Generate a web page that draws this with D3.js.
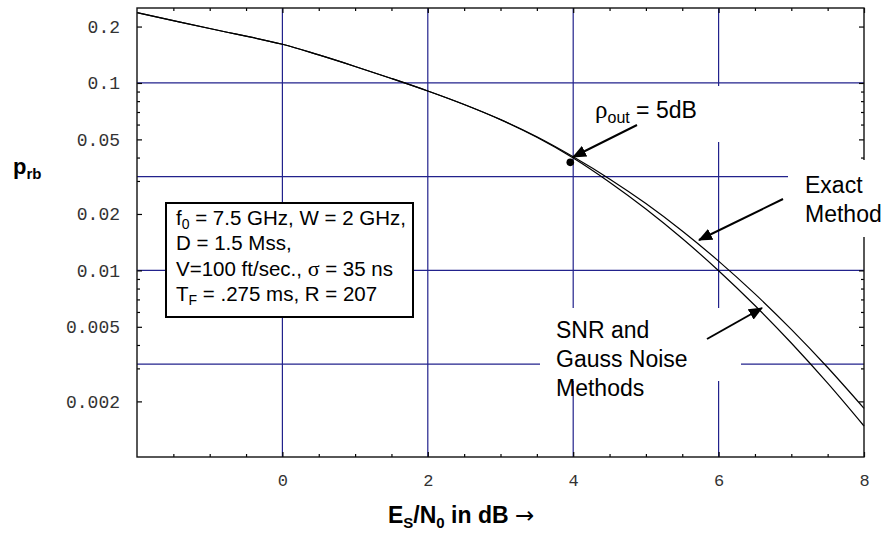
<!DOCTYPE html>
<html>
<head>
<meta charset="utf-8">
<script src="https://cdn.jsdelivr.net/npm/d3@7"></script>
<style>
  html, body { margin: 0; padding: 0; background: #fff; }
  svg { display: block; }
</style>
</head>
<body>
<svg id="chart" width="886" height="533"></svg>
<script>
// Es/N0 sample points (dB)
const esn0Db = [-2, -1, 0, 0.5, 1, 1.5, 2, 2.5, 3, 3.5, 4, 4.5, 5, 5.5, 6, 6.5, 7, 7.5, 8];
// bit error probability, SNR and Gauss noise methods
const pSnrGauss = [0.2372, 0.1953, 0.1609, 0.1411, 0.1225, 0.1057, 0.09065, 0.07677, 0.06372, 0.05131,
  0.03979, 0.02956, 0.02127, 0.01480, 0.009963, 0.006497, 0.004099, 0.002501, 0.001478];
// bit error probability, exact method
const pExact = [0.2372, 0.1953, 0.1609, 0.1411, 0.1225, 0.1057, 0.09065, 0.07677, 0.0638, 0.05163,
  0.04038, 0.03078, 0.02273, 0.01623, 0.01121, 0.007491, 0.004844, 0.003032, 0.001837];
// operating point where rho_out = 5 dB
const rhoOutPoint = [3.96, 0.0377];

const xMajorTicks = [0, 2, 4, 6, 8];
const xTickLabels = ["0", "2", "4", "6", "8"];
const xMinorTicks = [-1.5, -1, -0.5, 0.5, 1, 1.5, 2.5, 3, 3.5, 4.5, 5, 5.5, 6.5, 7, 7.5];
const yMajorTicks = [0.2, 0.1, 0.05, 0.02, 0.01, 0.005, 0.002];
const yTickLabels = ["0.2", "0.1", "0.05", "0.02", "0.01", "0.005", "0.002"];
const yMinorTicks = [0.09, 0.08, 0.07, 0.06, 0.04, 0.03,
  0.009, 0.008, 0.007, 0.006, 0.004, 0.003];
const xGrid = [0, 2, 4, 6];
const yGrid = [0.1, Math.pow(10, -1.5), 0.01, Math.pow(10, -2.5)];

const legendLines = [
  [["f", 0], ["0", 1], [" = 7.5 GHz, W = 2 GHz,", 0]],
  [["D = 1.5 Mss,", 0]],
  [["V=100 ft/sec., ", 0], ["σ", 2], [" = 35 ns", 0]],
  [["T", 0], ["F", 1], [" = .275 ms, R = 207", 0]]
];

const svg = d3.select("#chart");
const L = 137, R = 864, T = 8, B = 457;

const x = d3.scaleLinear().domain([-2, 8]).range([L, R]);
const y = d3.scaleLog().domain([0.00101, 0.2512]).range([B, T]);

const gridColor = "#22228c";
const sans = "'Liberation Sans', Arial, sans-serif";
const mono = "'Liberation Mono', 'Courier New', monospace";
const serif = "'Liberation Serif', 'Times New Roman', serif";

// grid lines
const grid = svg.append("g");
grid.selectAll("line.gx").data(xGrid).join("line")
  .attr("x1", d => x(d)).attr("x2", d => x(d))
  .attr("y1", T).attr("y2", B)
  .attr("stroke", gridColor).attr("stroke-width", 1.2);
grid.selectAll("line.gy").data(yGrid).join("line")
  .attr("x1", L).attr("x2", R)
  .attr("y1", d => y(d)).attr("y2", d => y(d))
  .attr("stroke", gridColor).attr("stroke-width", 1.2);

// curves
const line = d3.line()
  .x((d, i) => x(esn0Db[i]))
  .y(d => y(d))
  .curve(d3.curveCatmullRom.alpha(0.5));
svg.append("path").datum(pSnrGauss).attr("d", line)
  .attr("fill", "none").attr("stroke", "#000").attr("stroke-width", 1.2);
svg.append("path").datum(pExact).attr("d", line)
  .attr("fill", "none").attr("stroke", "#000").attr("stroke-width", 1.2);

// frame with inward ticks on all four sides
const axisStyle = g => {
  g.select(".domain").remove();
  g.selectAll(".tick line").attr("stroke", "#000").attr("stroke-width", 1.2);
};
const majX = 5, minX = 3;
svg.append("g").attr("transform", `translate(0,${B})`)
  .call(d3.axisBottom(x).tickValues(xMajorTicks).tickSize(-majX).tickPadding(17)
    .tickFormat((d, i) => xTickLabels[i]))
  .call(axisStyle)
  .call(g => g.selectAll("text").attr("font-family", mono).attr("font-size", 17).attr("fill", "#333"));
svg.append("g").attr("transform", `translate(0,${B})`)
  .call(d3.axisBottom(x).tickValues(xMinorTicks).tickSize(-minX).tickFormat(""))
  .call(axisStyle);
svg.append("g").attr("transform", `translate(0,${T})`)
  .call(d3.axisTop(x).tickValues(xMajorTicks).tickSize(-majX).tickFormat(""))
  .call(axisStyle);
svg.append("g").attr("transform", `translate(0,${T})`)
  .call(d3.axisTop(x).tickValues(xMinorTicks).tickSize(-minX).tickFormat(""))
  .call(axisStyle);

svg.append("g").attr("transform", `translate(${L},0)`)
  .call(d3.axisLeft(y).tickValues(yMajorTicks).tickSize(-majX).tickPadding(17)
    .tickFormat((d, i) => yTickLabels[i]))
  .call(axisStyle)
  .call(g => g.selectAll("text").attr("font-family", mono).attr("font-size", 18).attr("fill", "#333"));
svg.append("g").attr("transform", `translate(${L},0)`)
  .call(d3.axisLeft(y).tickValues(yMinorTicks).tickSize(-minX).tickFormat(""))
  .call(axisStyle);
svg.append("g").attr("transform", `translate(${R},0)`)
  .call(d3.axisRight(y).tickValues(yMajorTicks).tickSize(-majX).tickFormat(""))
  .call(axisStyle);
svg.append("g").attr("transform", `translate(${R},0)`)
  .call(d3.axisRight(y).tickValues(yMinorTicks).tickSize(-minX).tickFormat(""))
  .call(axisStyle);

svg.append("rect").attr("x", L).attr("y", T).attr("width", R - L).attr("height", B - T)
  .attr("fill", "none").attr("stroke", "#111").attr("stroke-width", 1.4);

// white backgrounds behind the annotation labels
const blanks = [
  [585, 86, 150, 56],
  [788, 160, 98, 77],
  [540, 308, 201, 73]
];
svg.selectAll("rect.blank").data(blanks).join("rect")
  .attr("x", d => d[0]).attr("y", d => d[1]).attr("width", d => d[2]).attr("height", d => d[3])
  .attr("fill", "#fff");

// operating point
svg.append("circle").attr("cx", x(rhoOutPoint[0])).attr("cy", y(rhoOutPoint[1]))
  .attr("r", 3.8).attr("fill", "#000");

// arrows
const defs = svg.append("defs");
defs.append("marker").attr("id", "head")
  .attr("viewBox", "0 0 14 12").attr("refX", 13).attr("refY", 6)
  .attr("markerWidth", 14).attr("markerHeight", 12)
  .attr("markerUnits", "userSpaceOnUse").attr("orient", "auto")
  .append("path").attr("d", "M0,0 L14,6 L0,12 Z").attr("fill", "#000");
const arrows = [
  [637, 125, 573, 157],
  [783, 199, 699, 240],
  [707, 339, 762, 308]
];
svg.selectAll("line.arrow").data(arrows).join("line")
  .attr("x1", d => d[0]).attr("y1", d => d[1]).attr("x2", d => d[2]).attr("y2", d => d[3])
  .attr("stroke", "#000").attr("stroke-width", 2).attr("marker-end", "url(#head)");

// annotation texts
const annSize = 23;
const rho = svg.append("text").attr("x", 595).attr("y", 118)
  .attr("font-family", sans).attr("font-size", annSize).attr("fill", "#000");
rho.append("tspan").attr("font-family", serif).attr("font-size", 25).text("ρ");
rho.append("tspan").attr("font-size", 16).attr("dy", 5).text("out");
rho.append("tspan").attr("dy", -5).text(" = 5dB");

const multi = (lines, x0, y0, step) => {
  lines.forEach((s, i) => svg.append("text").attr("x", x0).attr("y", y0 + i * step)
    .attr("font-family", sans).attr("font-size", annSize).attr("fill", "#000").text(s));
};
multi(["Exact", "Method"], 805, 193, 29);
multi(["SNR and", "Gauss Noise", "Methods"], 556, 338, 29);

// parameter box
svg.append("rect").attr("x", 166).attr("y", 203).attr("width", 247).attr("height", 114)
  .attr("fill", "#fff").attr("stroke", "#000").attr("stroke-width", 2);
legendLines.forEach((parts, i) => {
  const t = svg.append("text").attr("x", 176).attr("y", 225 + i * 25.3)
    .attr("font-family", sans).attr("font-size", 20.5).attr("fill", "#000");
  let shifted = false;
  parts.forEach(([s, kind]) => {
    const sp = t.append("tspan").text(s);
    if (kind === 1) { sp.attr("font-size", 14).attr("dy", 4); shifted = true; }
    else {
      if (shifted) { sp.attr("dy", -4); shifted = false; }
      if (kind === 2) sp.attr("font-family", serif).attr("font-size", 22);
    }
  });
});

// axis titles
const yt = svg.append("text").attr("x", 13).attr("y", 174)
  .attr("font-family", sans).attr("font-weight", "bold").attr("font-size", 22).attr("fill", "#000");
yt.append("tspan").text("p");
yt.append("tspan").attr("font-size", 15).attr("dy", 5).text("rb");

const xt = svg.append("text").attr("x", 388).attr("y", 523)
  .attr("font-family", sans).attr("font-weight", "bold").attr("font-size", 23).attr("fill", "#000");
xt.append("tspan").text("E");
xt.append("tspan").attr("font-size", 15).attr("dy", 5).text("S");
xt.append("tspan").attr("dy", -5).text("/N");
xt.append("tspan").attr("font-size", 15).attr("dy", 5).text("0");
xt.append("tspan").attr("dy", -5).text(" in dB ");
xt.append("tspan").attr("font-family", "'DejaVu Sans', sans-serif").attr("font-weight", "normal").text("→");
</script>
</body>
</html>
